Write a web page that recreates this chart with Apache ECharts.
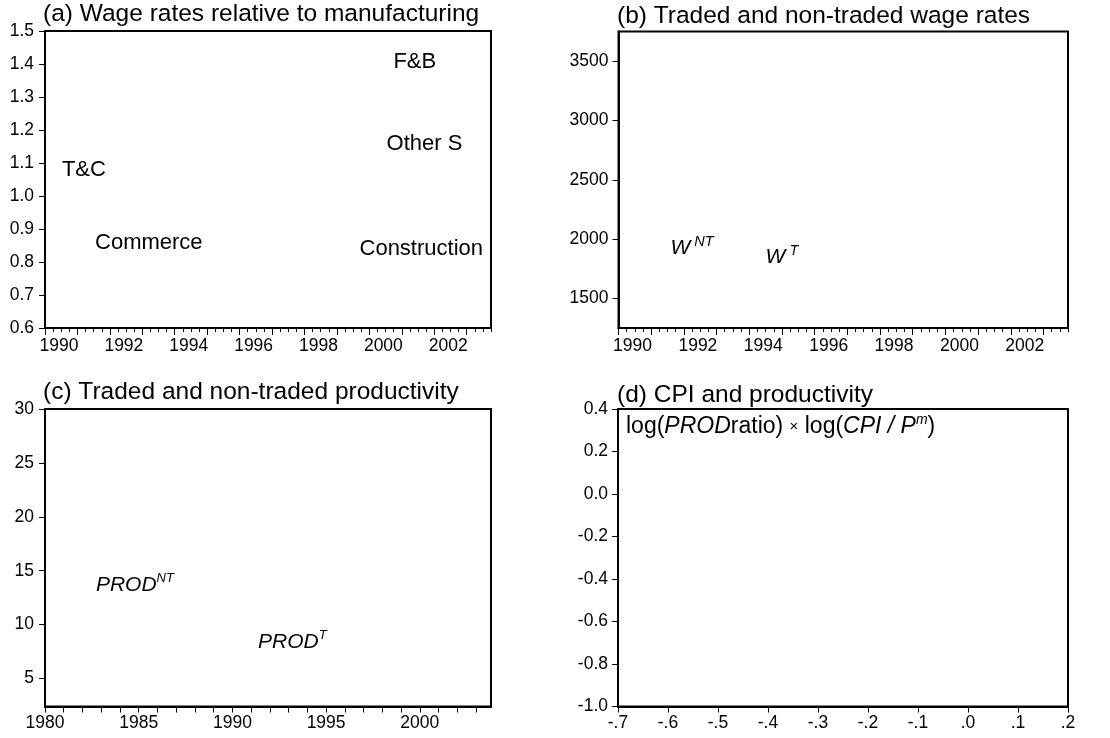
<!DOCTYPE html>
<html><head><meta charset="utf-8">
<script src="https://cdn.jsdelivr.net/npm/echarts@6/dist/echarts.min.js"></script>
<style>html,body{margin:0;padding:0;background:#fff}#c{width:1110px;height:738px}</style>
</head><body><div id="c"></div>
<script>
// ---------- text / data ----------
const panelTitles = [
  '(a) Wage rates relative to manufacturing',
  '(b) Traded and non-traded wage rates',
  '(c) Traded and non-traded productivity',
  '(d) CPI and productivity'
];
// Panel (a)
const aXTicks = [1990,1991,1992,1993,1994,1995,1996,1997,1998,1999,2000,2001,2002,2003];
const aXLabels = [1990,1992,1994,1996,1998,2000,2002];
const aYTicks = [0.6,0.7,0.8,0.9,1.0,1.1,1.2,1.3,1.4,1.5];
const aLabelNames = ['F&B','Other S','T&C','Commerce','Construction'];
const aLabelX = [2001.4, 2001.7, 1991.2, 1993.2, 2001.6];
const aLabelY = [1.406, 1.158, 1.079, 0.858, 0.839];
// Panel (b)
const bXTicks = aXTicks;
const bXLabels = aXLabels;
const bYTicks = [1500,2000,2500,3000,3500];
const bLabelNames = ['{i|W}{s|NT}','{i|W}{s|T}'];
const bLabelX = [1992.25, 1995.0];
const bLabelY = [1925, 1850];
// Panel (c)
const cXTicks = [1980,1981,1982,1983,1984,1985,1986,1987,1988,1989,1990,1991,1992,1993,1994,1995,1996,1997,1998,1999,2000,2001,2002,2003];
const cXLabels = [1980,1985,1990,1995,2000];
const cYTicks = [5,10,15,20,25,30];
const cLabelNames = ['{i|PROD}{s|NT}','{i|PROD}{s|T}'];
const cLabelX = [1984.8, 1993.2];
const cLabelY = [13.7, 8.4];
// Panel (d)
const dXTicks = [-0.7,-0.6,-0.5,-0.4,-0.3,-0.2,-0.1,0.0,0.1,0.2];
const dYTicks = [-1.0,-0.8,-0.6,-0.4,-0.2,0.0,0.2,0.4];
const dLegend = '{n|log(}{i|PROD}{n|ratio) }{x|×}{n| log(}{i|CPI / P}{s|m}{n|)}';

// ---------- styling ----------
const FF = '"Liberation Sans", Arial, sans-serif';
const BLACK = '#000';
const tickFont = 17.5;

const grids = [
  {left: 45, top: 31, width: 446, height: 297},
  {left: 618.5, top: 31.5, width: 449.5, height: 296.5},
  {left: 45, top: 409, width: 446, height: 297.5},
  {left: 618, top: 409, width: 450, height: 297.5}
].map(g => Object.assign({show: true, borderColor: BLACK, borderWidth: 2, backgroundColor: 'transparent'}, g));

function fmt1(v){ const r = Math.round(v*10)/10; return (r === 0 ? 0 : r).toFixed(1); }
function fmtDot(v){ const r = Math.round(v*10)/10; let s = (r === 0 ? 0 : r).toFixed(1); return s.replace('0.', '.'); }

function baseAxis(extra){
  return Object.assign({
    type: 'value', splitLine: {show: false},
    axisLine: {show: true, onZero: false, lineStyle: {color: BLACK, width: 2}},
    axisTick: {show: true, inside: false, length: 6, lineStyle: {color: BLACK, width: 1}},
    axisLabel: {color: BLACK, fontSize: tickFont, fontFamily: FF}
  }, extra);
}

const xAxes = [
  // (a) quarterly ticks
  baseAxis({gridIndex: 0, position: 'bottom', min: 1990, max: 2003.75, interval: 0.25,
    axisTick: {show: true, length: 4, lineStyle: {color: BLACK, width: 1}}, axisLabel: {show: false}}),
  // (a) yearly ticks + labels
  baseAxis({gridIndex: 0, position: 'bottom', min: 1990, max: 2003.75,
    axisLine: {show: false},
    axisTick: {show: true, length: 7, customValues: aXTicks, lineStyle: {color: BLACK, width: 1}},
    axisLabel: {color: BLACK, fontSize: tickFont, fontFamily: FF, margin: 9, customValues: aXLabels,
      padding: [0, 0, 0, 28], formatter: v => String(Math.round(v))}}),
  // (b) quarterly ticks
  baseAxis({gridIndex: 1, position: 'bottom', min: 1990, max: 2003.75, interval: 0.25,
    axisTick: {show: true, length: 4, lineStyle: {color: BLACK, width: 1}}, axisLabel: {show: false}}),
  // (b) yearly ticks + labels
  baseAxis({gridIndex: 1, position: 'bottom', min: 1990, max: 2003.75,
    axisLine: {show: false},
    axisTick: {show: true, length: 7, customValues: bXTicks, lineStyle: {color: BLACK, width: 1}},
    axisLabel: {color: BLACK, fontSize: tickFont, fontFamily: FF, margin: 9, customValues: bXLabels,
      padding: [0, 0, 0, 28], formatter: v => String(Math.round(v))}}),
  // (c)
  baseAxis({gridIndex: 2, position: 'bottom', min: 1980, max: 2003.8,
    axisTick: {show: true, length: 6, customValues: cXTicks, lineStyle: {color: BLACK, width: 1}},
    axisLabel: {color: BLACK, fontSize: tickFont, fontFamily: FF, margin: 8, customValues: cXLabels,
      formatter: v => String(Math.round(v))}}),
  // (d)
  baseAxis({gridIndex: 3, position: 'bottom', min: -0.7, max: 0.2,
    axisTick: {show: true, length: 6, customValues: dXTicks, lineStyle: {color: BLACK, width: 1}},
    axisLabel: {color: BLACK, fontSize: tickFont, fontFamily: FF, margin: 8, customValues: dXTicks,
      formatter: fmtDot}})
];

function yAx(grid, min, max, ticks, formatter, margin){
  return baseAxis({gridIndex: grid, position: 'left', min: min, max: max,
    axisTick: {show: true, length: 6, customValues: ticks, lineStyle: {color: BLACK, width: 1}},
    axisLabel: {color: BLACK, fontSize: tickFont, fontFamily: FF, margin: margin, customValues: ticks,
      padding: [0, 0, 6, 0], formatter: formatter}});
}
const yAxes = [
  yAx(0, 0.6, 1.5, aYTicks, fmt1, 11),
  yAx(1, 1250, 3750, bYTicks, v => String(Math.round(v)), 10),
  yAx(2, 2.4, 30, cYTicks, v => String(Math.round(v)), 11),
  yAx(3, -1.0, 0.4, dYTicks, fmt1, 10)
];

const wRich = {
  i: {fontStyle: 'italic', fontSize: 21, fontFamily: FF, color: BLACK, lineHeight: 26},
  s: {fontStyle: 'italic', fontSize: 14.5, fontFamily: FF, color: BLACK, lineHeight: 15, verticalAlign: 'top', padding: [0, 0, 0, 4]}
};
const prodRich = {
  i: {fontStyle: 'italic', fontSize: 21, fontFamily: FF, color: BLACK, lineHeight: 26},
  s: {fontStyle: 'italic', fontSize: 13, fontFamily: FF, color: BLACK, lineHeight: 14, verticalAlign: 'top'}
};

function labelSeries(x, y, names, xi, yi, fontSize, rich){
  return {
    type: 'scatter', xAxisIndex: xi, yAxisIndex: yi, symbolSize: 0, silent: true,
    itemStyle: {opacity: 1},
    data: names.map((n, k) => ({name: n, value: [x[k], y[k]]})),
    label: {show: true, position: 'inside', formatter: p => p.name, color: BLACK, opacity: 1,
      fontSize: fontSize, fontFamily: FF, rich: rich}
  };
}

const series = [
  labelSeries(aLabelX, aLabelY, aLabelNames, 1, 0, 22, undefined),
  labelSeries(bLabelX, bLabelY, bLabelNames, 3, 1, 21, wRich),
  labelSeries(cLabelX, cLabelY, cLabelNames, 4, 2, 21, prodRich)
];

const titlePos = [[43, 2], [617, 4], [43, 380], [617, 383]];
const titles = panelTitles.map((t, k) => ({
  text: t, left: titlePos[k][0], top: titlePos[k][1], padding: 0,
  textStyle: {fontSize: 24.5, fontWeight: 'normal', fontFamily: FF, color: BLACK}
}));
titles.push({
  text: dLegend, left: 626, top: 413, padding: 0,
  textStyle: {fontSize: 23, fontWeight: 'normal', fontFamily: FF, color: BLACK,
    rich: {
      n: {fontSize: 23, fontFamily: FF, color: BLACK, lineHeight: 27},
      i: {fontSize: 23, fontFamily: FF, fontStyle: 'italic', color: BLACK, lineHeight: 27},
      x: {fontSize: 15, fontFamily: FF, color: BLACK, lineHeight: 27},
      s: {fontSize: 14, fontFamily: FF, fontStyle: 'italic', color: BLACK, lineHeight: 14, verticalAlign: 'top'}
    }}
});

const chart = echarts.init(document.getElementById('c'), null, {renderer: 'canvas'});
chart.setOption({
  animation: false,
  backgroundColor: '#fff',
  title: titles,
  grid: grids,
  xAxis: xAxes,
  yAxis: yAxes,
  series: series
});
</script>
</body></html>
